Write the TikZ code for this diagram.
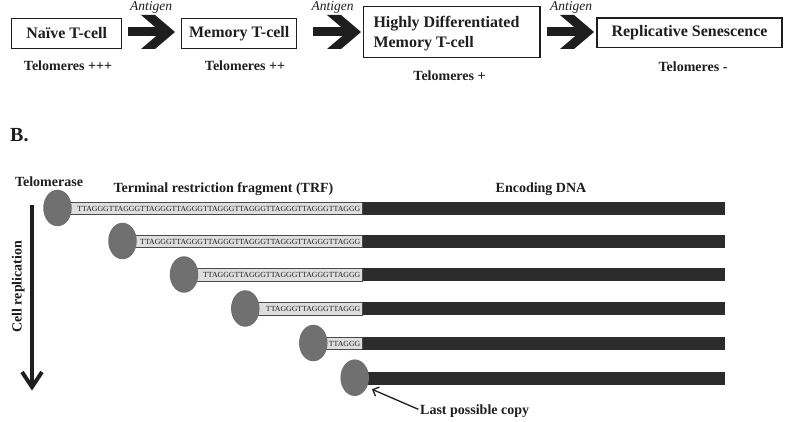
\documentclass[tikz,border=0pt]{standalone}
\usepackage{fontspec}
\setmainfont{Liberation Serif}
\usetikzlibrary{calc,arrows.meta,shapes.geometric}
\definecolor{ink}{HTML}{1E1E1E}
\definecolor{ellgray}{HTML}{707070}
\definecolor{darkbar}{HTML}{2C2C2C}
\definecolor{lightbar}{HTML}{DEDEDE}
\definecolor{barline}{HTML}{4A4A4A}
\tikzset{
  cellbox/.style={draw=ink, line width=1.3pt, font=\fontsize{16}{20}\selectfont\bfseries, text=ink, inner sep=0pt},
  antig/.style={font=\fontsize{13.5}{16}\selectfont\itshape, text=ink, inner sep=0pt},
  lab/.style={font=\fontsize{14}{17}\selectfont\bfseries, text=ink, inner sep=0pt},
  seq/.style={font=\fontsize{7.8}{9}\selectfont, text=ink, inner sep=0pt, anchor=east},
  telom/.style={shape=ellipse, fill=ellgray, minimum width=28.5pt, minimum height=36.5pt, inner sep=0pt},
}
\newcommand{\fatarrow}[2]{%
  \fill[ink] ($(#1)+(0,-4.5)$) rectangle ($(#2)+(-13,4.5)$);
  \fill[ink] (#2) -- ++(-20,-17) -- ++(-14,0) -- ++(20,17) -- ++(-20,17) -- ++(14,0) -- cycle;
}
\begin{document}
\begin{tikzpicture}[x=1pt,y=-1pt]
\useasboundingbox[fill=white] (0,0) rectangle (785,422);

% ---- Part A ----
\node[cellbox, minimum width=110pt, minimum height=30pt] (b1) at (66.7,33.3) {Naïve T-cell};
\node[cellbox, minimum width=115pt, minimum height=30pt] (b2) at (239.2,33.3) {Memory T-cell};
\node[cellbox, minimum width=176.7pt, minimum height=50.6pt] (b3) at (451.7,32) {};
\node[font=\fontsize{16}{20}\selectfont\bfseries, text=ink, inner sep=0pt, align=left, anchor=west] (b3t) at (373.3,33.5) {Highly Differentiated\\Memory T-cell};
\node[cellbox, minimum width=185pt, minimum height=29.5pt] (b4) at (689.5,32.8) {Replicative Senescence};

\coordinate (a1s) at (127.5,32); \coordinate (a1t) at (175,32);
\coordinate (a2s) at (313,32);   \coordinate (a2t) at (361,32);
\coordinate (a3s) at (547,32);   \coordinate (a3t) at (594,32);
\fatarrow{a1s}{a1t}
\fatarrow{a2s}{a2t}
\fatarrow{a3s}{a3t}

\node[antig] (g1) at (151,7.5) {Antigen};
\node[antig] (g2) at (332.5,7.5) {Antigen};
\node[antig] (g3) at (571,7.5) {Antigen};

\node[lab, anchor=base] (t1) at (68,71) {Telomeres +++};
\node[lab, anchor=base] (t2) at (245,71) {Telomeres ++};
\node[lab, anchor=base] (t3) at (449.5,81) {Telomeres +};
\node[lab, anchor=base] (t4) at (693,71.7) {Telomeres -};

% ---- Part B ----
\node[font=\fontsize{20}{24}\selectfont\bfseries, text=ink, inner sep=0pt, anchor=base west] (B) at (10,142) {B.};

\node[lab, anchor=base] (tel) at (49,186.7) {Telomerase};
\node[lab, anchor=base] (trf) at (223.5,192.7) {Terminal restriction fragment (TRF)};
\node[lab, anchor=base] (enc) at (541,192.7) {Encoding DNA};

\foreach \i/\yy/\ex/\sq in {
  1/208.5/57.5/TTAGGGTTAGGGTTAGGGTTAGGGTTAGGGTTAGGGTTAGGGTTAGGGTTAGGG,
  2/241.5/122.5/TTAGGGTTAGGGTTAGGGTTAGGGTTAGGGTTAGGGTTAGGG,
  3/275/184/TTAGGGTTAGGGTTAGGGTTAGGGTTAGGG,
  4/309/245.3/TTAGGGTTAGGGTTAGGG,
  5/343.5/313.3/TTAGGG}{
  \fill[darkbar] (361,\yy-6.5) rectangle (725,\yy+6.5);
  \filldraw[fill=lightbar, draw=barline, line width=0.7pt] (\ex,\yy-6.2) rectangle (362,\yy+6.2);
  \node[seq] (s\i) at (360.5,\yy+0.3) {\sq};
  \node[telom] (e\i) at (\ex,\yy-0.5) {};
}
\fill[darkbar] (361,371.5) rectangle (725,384.5);
\node[telom] (e6) at (354.7,377.7) {};

% cell replication arrow
\coordinate (crtop) at (32,205);
\coordinate (crbot) at (32,387);
\draw[ink, line width=4pt] (crtop) -- ($(crbot)+(0,-3)$);
\draw[ink, line width=4pt, line join=miter] ($(crbot)+(-10,-15)$) -- (crbot) -- ($(crbot)+(10,-15)$);
\node[lab, rotate=90] (cr) at (18.3,286.7) {Cell replication};

% last possible copy
\node[lab, anchor=base west] (lpc) at (420,414.3) {Last possible copy};
\coordinate (lpctip) at (372,389.3);
\draw[ink, line width=1.3pt, -{Straight Barb[length=5pt,width=10pt]}] ($(lpc.base west)+(-1.7,-5)$) -- (lpctip);
\end{tikzpicture}
\end{document}
